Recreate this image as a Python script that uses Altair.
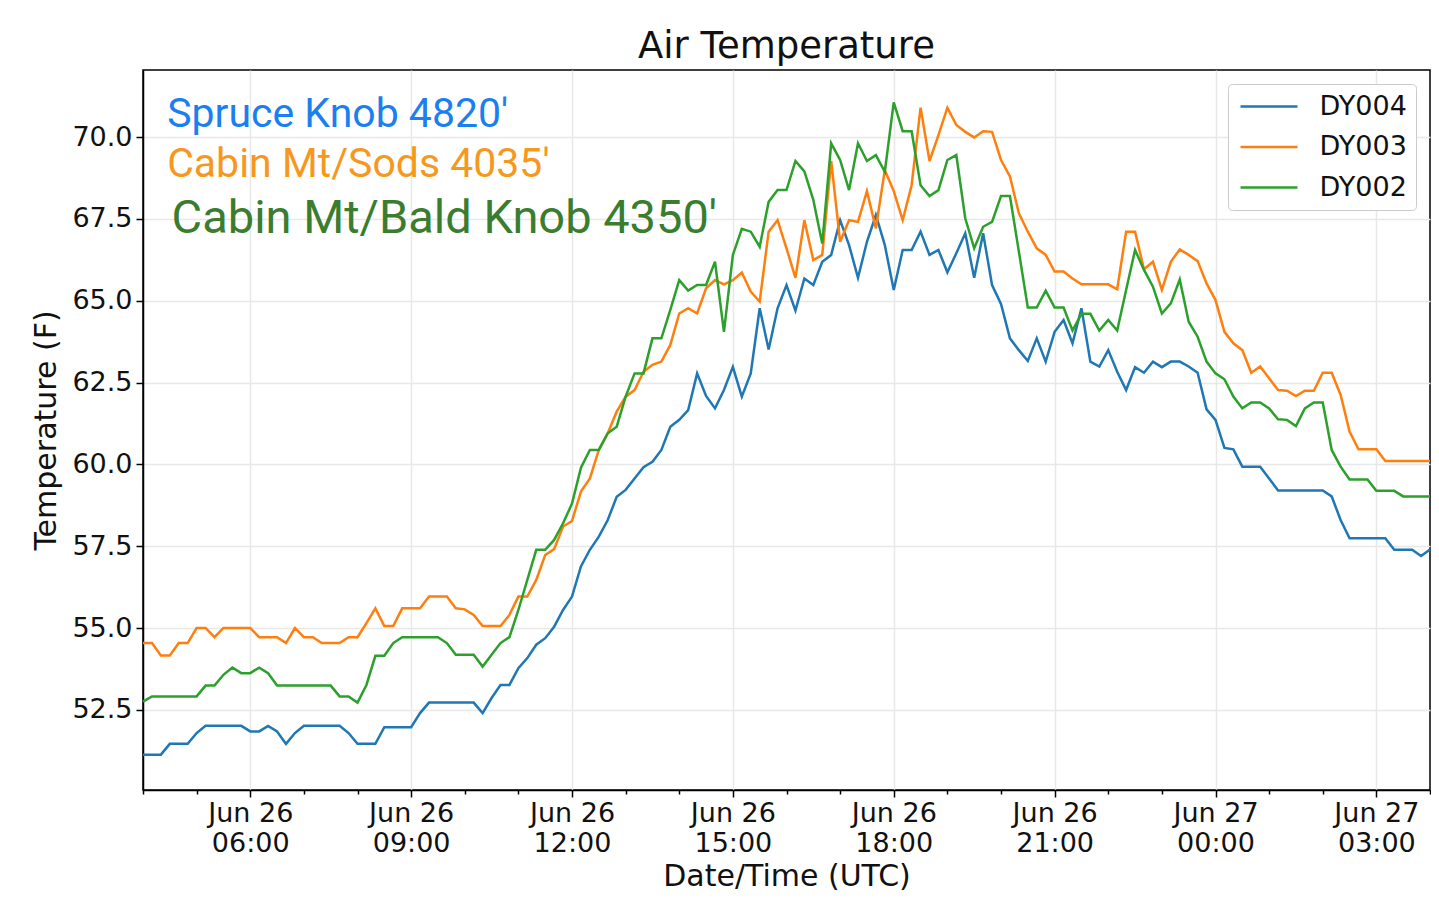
import altair as alt
import pandas as pd

# ---------------- data ----------------
series_names = ["DY004", "DY003", "DY002"]
series_colors = ["#1f77b4", "#ff7f0e", "#2ca02c"]

# 10-minute readings, 2019-06-26 04:00Z .. 2019-06-27 04:00Z (145 values)
dy004 = [
    51.13, 51.13, 51.13, 51.46, 51.46, 51.46, 51.79, 52.01, 52.01, 52.01,
    52.01, 52.01, 51.84, 51.84, 52.01, 51.84, 51.46, 51.79, 52.01, 52.01,
    52.01, 52.01, 52.01, 51.79, 51.46, 51.46, 51.46, 51.97, 51.97, 51.97,
    51.97, 52.4, 52.72, 52.72, 52.72, 52.72, 52.72, 52.72, 52.4, 52.86,
    53.26, 53.26, 53.77, 54.08, 54.49, 54.69, 55.04, 55.55, 55.96, 56.88,
    57.39, 57.79, 58.3, 59.01, 59.22, 59.57, 59.91, 60.08, 60.44, 61.15,
    61.36, 61.66, 62.78, 62.09, 61.71, 62.27, 62.98, 62.07, 62.78, 64.77,
    63.51, 64.77, 65.48, 64.7, 65.68, 65.48, 66.19, 66.4, 67.46, 66.7,
    65.7, 66.8, 67.62, 66.7, 65.33, 66.55, 66.55, 67.11, 66.4, 66.55,
    65.87, 66.45, 67.06, 65.7, 67.06, 65.48, 64.9, 63.85, 63.49, 63.16,
    63.85, 63.14, 64.05, 64.41, 63.7, 64.77, 63.14, 62.99, 63.49, 62.83,
    62.27, 62.97, 62.8, 63.14, 62.97, 63.14, 63.14, 62.99, 62.8, 61.68,
    61.36, 60.5, 60.46, 59.93, 59.93, 59.93, 59.57, 59.2, 59.2, 59.2,
    59.2, 59.2, 59.2, 59.02, 58.3, 57.74, 57.74, 57.74, 57.74, 57.74,
    57.39, 57.39, 57.39, 57.2, 57.4,
]
dy003 = [
    54.54, 54.54, 54.16, 54.16, 54.54, 54.54, 55.0, 55.0, 54.72, 55.0,
    55.0, 55.0, 55.0, 54.72, 54.72, 54.72, 54.54, 55.0, 54.72, 54.72,
    54.54, 54.54, 54.54, 54.72, 54.72, 55.15, 55.6, 55.06, 55.06, 55.6,
    55.6, 55.6, 55.96, 55.96, 55.96, 55.6, 55.57, 55.4, 55.06, 55.06,
    55.06, 55.4, 55.96, 55.96, 56.47, 57.23, 57.41, 58.1, 58.27, 59.17,
    59.57, 60.44, 60.95, 61.61, 62.07, 62.27, 62.83, 63.04, 63.14, 63.65,
    64.61, 64.77, 64.61, 65.38, 65.63, 65.5, 65.63, 65.86, 65.28, 64.97,
    67.11, 67.46, 66.6, 65.7, 67.46, 66.24, 66.4, 69.27, 66.8, 67.46,
    67.41, 68.35, 67.21, 68.99, 68.35, 67.46, 68.53, 70.9, 69.27, 70.06,
    70.9, 70.37, 70.16, 69.99, 70.18, 70.16, 69.3, 68.8, 67.67, 67.11,
    66.6, 66.4, 65.89, 65.89, 65.68, 65.5, 65.5, 65.5, 65.5, 65.35,
    67.11, 67.11, 65.96, 66.19, 65.33, 66.19, 66.57, 66.4, 66.21, 65.53,
    65.02, 64.05, 63.7, 63.49, 62.8, 62.99, 62.63, 62.27, 62.25, 62.09,
    62.25, 62.25, 62.8, 62.8, 62.12, 61.0, 60.46, 60.46, 60.46, 60.1,
    60.1, 60.1, 60.1, 60.1, 60.1,
]
dy002 = [
    52.75, 52.91, 52.91, 52.91, 52.91, 52.91, 52.91, 53.24, 53.24, 53.57,
    53.79, 53.62, 53.62, 53.79, 53.62, 53.24, 53.24, 53.24, 53.24, 53.24,
    53.24, 53.24, 52.91, 52.91, 52.72, 53.26, 54.15, 54.15, 54.54, 54.72,
    54.72, 54.72, 54.72, 54.72, 54.54, 54.18, 54.18, 54.18, 53.82, 54.18,
    54.54, 54.72, 55.55, 56.47, 57.39, 57.39, 57.69, 58.2, 58.8, 59.9,
    60.44, 60.44, 60.95, 61.15, 62.07, 62.78, 62.78, 63.85, 63.85, 64.72,
    65.63, 65.31, 65.48, 65.48, 66.19, 64.05, 66.4, 67.2, 67.11, 66.65,
    68.02, 68.38, 68.38, 69.27, 68.95, 68.08, 66.75, 69.81, 69.3, 68.38,
    69.81, 69.27, 69.45, 68.94, 71.06, 70.18, 70.18, 68.53, 68.2, 68.38,
    69.3, 69.45, 67.52, 66.6, 67.26, 67.41, 68.2, 68.2, 66.5, 64.79,
    64.79, 65.31, 64.79, 64.79, 64.09, 64.6, 64.6, 64.09, 64.41, 64.09,
    65.33, 66.55, 65.94, 65.43, 64.61, 64.92, 65.65, 64.36, 63.9, 63.14,
    62.78, 62.6, 62.07, 61.71, 61.89, 61.89, 61.71, 61.38, 61.36, 61.17,
    61.71, 61.89, 61.89, 60.44, 59.93, 59.54, 59.54, 59.54, 59.19, 59.19,
    59.19, 59.02, 59.02, 59.02, 59.02,
]

y_ticks = [52.5, 55.0, 57.5, 60.0, 62.5, 65.0, 67.5, 70.0]
tick_hours = list(range(4, 29))  # hourly ticks 04:00 .. 04:00 next day

ann_labels = ["Spruce Knob 4820'", "Cabin Mt/Sods 4035'", "Cabin Mt/Bald Knob 4350'"]
ann_times = ["2019-06-26T04:27:00Z", "2019-06-26T04:27:00Z", "2019-06-26T04:32:00Z"]
ann_temps = [70.30, 68.77, 67.08]
ann_colors = ["#1b7ff0", "#f7981e", "#3a7d2f"]
ann_sizes = [41, 41, 47]

# ---------------- tables ----------------
start = pd.Timestamp("2019-06-26 04:00")
rows = []
for name, vals in zip(series_names, [dy004, dy003, dy002]):
    for i, v in enumerate(vals):
        t = (start + pd.Timedelta(minutes=10 * i)).strftime("%Y-%m-%dT%H:%M:%SZ")
        rows.append({"time": t, "temp": v, "sensor": name})
df = pd.DataFrame(rows)

ann = pd.DataFrame({"time": ann_times, "temp": ann_temps, "label": ann_labels,
                    "color": ann_colors, "fs": ann_sizes})

def dt(h):
    return alt.DateTime(year=2019, month=6, date=26 + h // 24, hours=h % 24, utc=True)

tick_values = [dt(h) for h in tick_hours]
major = "utchours(datum.value) % 3 == 0"

x_enc = alt.X(
    "time:T",
    scale=alt.Scale(type="utc", domain=[dt(4), dt(28)], nice=False),
    axis=alt.Axis(
        values=tick_values,
        title="Date/Time (UTC)",
        labelExpr=f"{major} ? [utcFormat(datum.value, '%b %d'), utcFormat(datum.value, '%H:%M')] : ''",
        labelOverlap=False,
        labelFlush=False,
        labelLineHeight=30,
        labelPadding=3,
        tickSize={"condition": {"test": major, "value": 7}, "value": 4},
        gridOpacity={"condition": {"test": major, "value": 1}, "value": 0},
        titlePadding=5,
    ),
)
y_enc = alt.Y(
    "temp:Q",
    scale=alt.Scale(domain=[50.05, 72.05], nice=False, zero=False),
    axis=alt.Axis(values=y_ticks, format=".1f", title="Temperature (F)",
                  tickSize=7, titlePadding=10),
)

lines = alt.Chart(df).mark_line(strokeWidth=2.5).encode(
    x=x_enc,
    y=y_enc,
    color=alt.Color(
        "sensor:N",
        scale=alt.Scale(domain=series_names, range=series_colors),
        legend=alt.Legend(
            title=None,
            orient="top-right",
            offset=14,
            symbolType="M-2.85,0H2.85",
            symbolSize=400,
            symbolStrokeWidth=2.5,
            symbolOffset=18.5,
            labelOffset=37,
            labelFont="DejaVu Sans",
            labelFontSize=27,
            labelColor="#111111",
            rowPadding=12.5,
            padding=9,
            fillColor="white",
            strokeColor="#cccccc",
            cornerRadius=4,
        ),
    ),
)

texts = alt.Chart(ann).mark_text(align="left", baseline="alphabetic", font="Roboto").encode(
    x="time:T",
    y="temp:Q",
    text="label:N",
    color=alt.Color("color:N", scale=None),
    size=alt.Size("fs:Q", scale=None),
)

chart = (
    alt.layer(lines, texts)
    .properties(
        width=1287,
        height=720,
        title="Air Temperature",
        autosize=alt.AutoSizeParams(type="none"),
        padding={"left": 135, "top": 62, "right": 1, "bottom": 101},
    )
    .configure_axis(
        labelFont="DejaVu Sans", labelFontSize=27, labelColor="#111111",
        titleFont="DejaVu Sans", titleFontSize=30, titleFontWeight="normal", titleColor="#111111",
        domainColor="black", domainWidth=1.5, tickColor="black", tickWidth=1.5,
        gridColor="#e8e8e8", gridWidth=1.5, labelPadding=4,
    )
    .configure_view(stroke="black", strokeWidth=1.5)
    .configure_title(font="DejaVu Sans", fontSize=37, fontWeight="normal",
                     color="#111111", offset=4, anchor="middle")
)

chart.save("out.html", embed_options={"renderer": "svg", "actions": False})
